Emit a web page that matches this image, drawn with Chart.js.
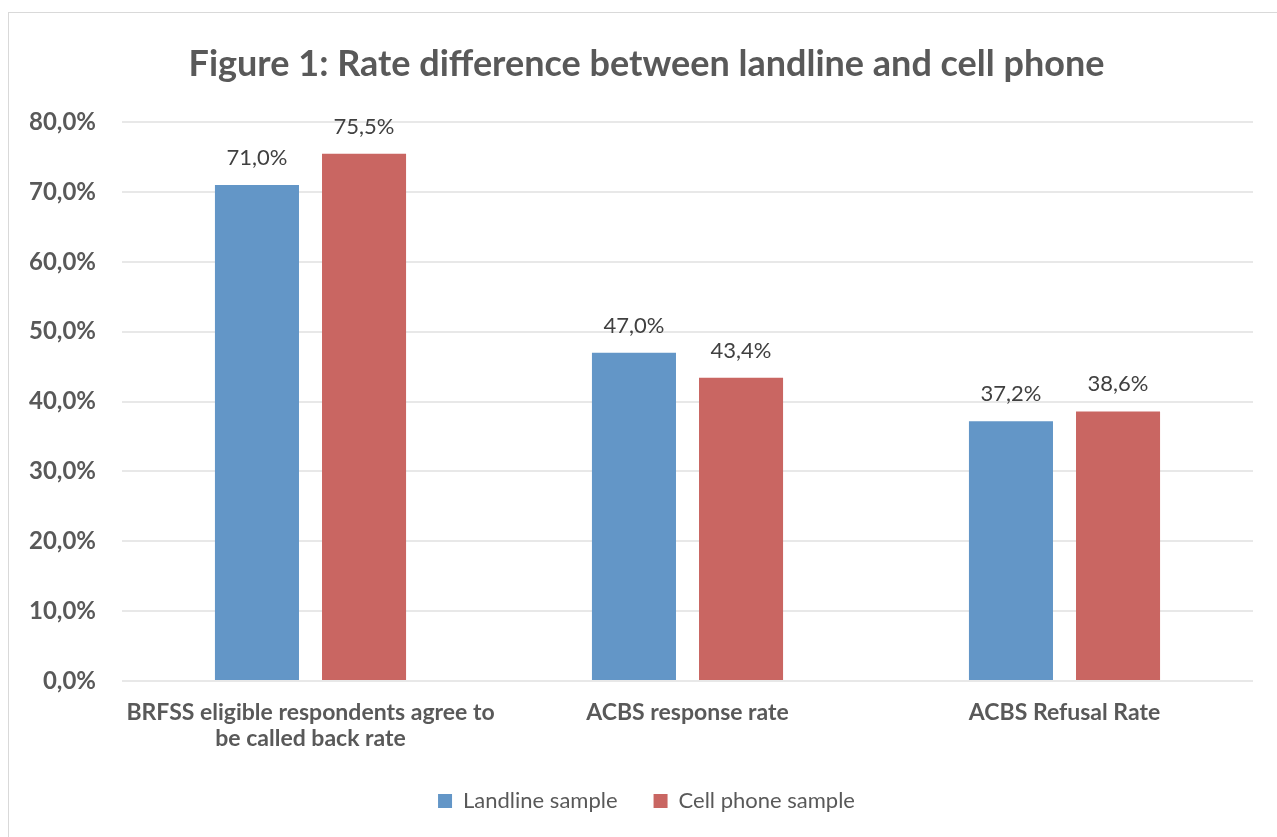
<!DOCTYPE html>
<html>
<head>
<meta charset="utf-8">
<script src="https://cdn.jsdelivr.net/npm/chart.js@4/dist/chart.umd.min.js"></script>
<style>
    html, body { margin: 0; padding: 0; background: #fff; }
    #wrap { position: relative; width: 1277px; height: 837px; overflow: hidden; }
    #frame { position: absolute; left: 8px; top: 12px; width: 1300px; height: 900px; border: 1px solid #d9d9d9; box-sizing: border-box; }
    canvas { position: absolute; left: 0; top: 0; }
</style>
</head>
<body>
<div id="wrap">
    <div id="frame"></div>
    <canvas id="rateChart" width="1293" height="837"></canvas>
</div>
<script>
    var categories = [
        ['BRFSS eligible respondents agree to', 'be called back rate'],
        'ACBS response rate',
        'ACBS Refusal Rate'
    ];
    var landlineValues = [71.0, 47.0, 37.2];
    var cellValues = [75.5, 43.4, 38.6];
    var seriesNames = ['Landline sample', 'Cell phone sample'];

    var textColor = '#595959';
    var fontName = 'Lato, "Open Sans", sans-serif';

    function fmtPct(v) {
        return v.toFixed(1).replace('.', ',') + '%';
    }

    // labels above each bar
    var barLabels = {
        id: 'barLabels',
        afterDatasetsDraw: function (chart) {
            var ctx = chart.ctx;
            ctx.save();
            ctx.font = '22px ' + fontName;
            ctx.fillStyle = '#404040';
            ctx.textAlign = 'center';
            ctx.textBaseline = 'middle';
            chart.data.datasets.forEach(function (ds, i) {
                chart.getDatasetMeta(i).data.forEach(function (bar, j) {
                    ctx.fillText(fmtPct(ds.data[j]), bar.x, bar.y - 27);
                });
            });
            ctx.restore();
        }
    };

    new Chart(document.getElementById('rateChart'), {
        type: 'bar',
        data: {
            labels: categories,
            datasets: [{
                label: seriesNames[0],
                data: landlineValues,
                backgroundColor: '#6396c7'
            }, {
                label: seriesNames[1],
                data: cellValues,
                backgroundColor: '#c96662'
            }]
        },
        plugins: [barLabels],
        options: {
            responsive: false,
            animation: false,
            categoryPercentage: 0.568,
            barPercentage: 0.785,
            layout: { padding: { left: 0, right: 0, top: 0, bottom: 15 } },
            plugins: {
                title: {
                    display: true,
                    text: 'Figure 1: Rate difference between landline and cell phone',
                    color: textColor,
                    font: { family: fontName, size: 36, weight: 'bold' },
                    padding: { top: 43, bottom: 36 }
                },
                legend: {
                    position: 'bottom',
                    labels: {
                        color: textColor,
                        font: { family: fontName, size: 22 },
                        boxWidth: 14,
                        boxHeight: 14,
                        padding: 36
                    }
                },
                tooltip: { enabled: false }
            },
            scales: {
                x: {
                    grid: { display: false },
                    border: { display: false },
                    ticks: {
                        color: textColor,
                        padding: 11,
                        font: { family: fontName, size: 23, weight: 'bold', lineHeight: 1.13 }
                    },
                    afterFit: function (s) { s.height = 73; }
                },
                y: {
                    min: 0,
                    max: 80,
                    grid: { color: '#e8e8e8', lineWidth: 2, drawTicks: false },
                    border: { display: false },
                    ticks: {
                        stepSize: 10,
                        color: textColor,
                        padding: 26,
                        font: { family: fontName, size: 24, weight: 'bold' },
                        callback: function (v) { return fmtPct(v); }
                    },
                    afterFit: function (s) { s.width = 122; }
                },
                // empty right margin so title and legend sit where the original has them
                yRight: {
                    position: 'right',
                    grid: { display: false },
                    border: { display: false },
                    ticks: { display: false },
                    afterFit: function (s) { s.width = 40; }
                }
            }
        }
    });
</script>
</body>
</html>
